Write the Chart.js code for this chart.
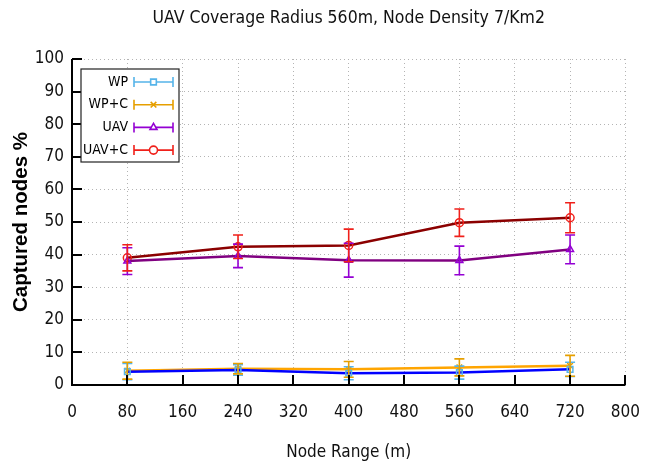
<!DOCTYPE html>
<html><head><meta charset="utf-8">
<script src="https://cdn.jsdelivr.net/npm/chart.js@4"></script>
<style>html,body{margin:0;padding:0;background:#fff}#wrap{width:657px;height:467px}</style>
</head><body><div id="wrap"><canvas id="c" width="657" height="467"></canvas></div>
<script>
const TITLE = 'UAV Coverage Radius 560m, Node Density 7/Km2';
const X_TITLE = 'Node Range (m)';
const Y_TITLE = 'Captured nodes %';
const nodeRange = [80, 240, 400, 560, 720];
const wp      = [4.1, 4.6, 3.6, 3.8, 4.8];
const wpErr   = [2.5, 1.6, 2.0, 2.0, 2.2];
const wpc     = [4.4, 5.0, 4.8, 5.4, 5.9];
const wpcErr  = [2.6, 1.6, 2.4, 2.6, 3.2];
const uav     = [38.0, 39.6, 38.3, 38.2, 41.6];
const uavErr  = [4.1, 3.6, 5.2, 4.4, 4.4];
const uavc    = [39.0, 42.4, 42.8, 49.8, 51.3];
const uavcErr = [4.0, 3.6, 5.0, 4.2, 4.6];
const xTicks = [0, 80, 160, 240, 320, 400, 480, 560, 640, 720, 800];
const yTicks = [0, 10, 20, 30, 40, 50, 60, 70, 80, 90, 100];

const FONT = '"DejaVu Sans Condensed", "DejaVu Sans", sans-serif';

function pts(ys){ return nodeRange.map((x,i)=>({x:x,y:ys[i]})); }

const series = [
  {label:'WP',    data:wp,   err:wpErr,   line:'#0000ff', bar:'#56b4e9', style:'rect'},
  {label:'WP+C',  data:wpc,  err:wpcErr,  line:'#ffa500', bar:'#e69f00', style:'crossRot'},
  {label:'UAV',   data:uav,  err:uavErr,  line:'#800080', bar:'#9400d3', style:'triangle'},
  {label:'UAV+C', data:uavc, err:uavcErr, line:'#8b0000', bar:'#f0201a', style:'circle'}
];

const datasets = series.map(s=>({
  label:s.label, data:pts(s.data), errors:s.err, barColor:s.bar,
  borderColor:s.line, borderWidth:2.5, tension:0,
  pointStyle:s.style, pointRadius:4, pointBorderColor:s.bar,
  pointBackgroundColor:'rgba(0,0,0,0)', pointBorderWidth:1.5, fill:false
}));

const errorBars = {
  id:'errorBars',
  afterDatasetsDraw(chart){
    const ctx = chart.ctx, xs = chart.scales.x, ys = chart.scales.y;
    chart.data.datasets.forEach(ds=>{
      ctx.save();
      ctx.strokeStyle = ds.barColor; ctx.lineWidth = 1.6;
      ds.data.forEach((p,i)=>{
        const px = xs.getPixelForValue(p.x);
        const t = ys.getPixelForValue(p.y + ds.errors[i]);
        const b = ys.getPixelForValue(p.y - ds.errors[i]);
        ctx.beginPath();
        ctx.moveTo(px,t); ctx.lineTo(px,b);
        ctx.moveTo(px-5,t); ctx.lineTo(px+5,t);
        ctx.moveTo(px-5,b); ctx.lineTo(px+5,b);
        ctx.stroke();
      });
      ctx.restore();
    });
  }
};

const frame = {
  id:'frame',
  afterDraw(chart){
    const ctx = chart.ctx, a = chart.chartArea, xs = chart.scales.x, ys = chart.scales.y;
    ctx.save();
    // title centred over the plot area
    ctx.fillStyle = '#111'; ctx.font = '17.5px ' + FONT;
    ctx.textAlign = 'center'; ctx.textBaseline = 'middle';
    ctx.fillText(TITLE, (a.left + a.right) / 2, 18);
    ctx.strokeStyle = '#000'; ctx.lineWidth = 2;
    ctx.beginPath();
    xTicks.forEach(v=>{ const px = Math.round(xs.getPixelForValue(v)); ctx.moveTo(px,a.bottom); ctx.lineTo(px,a.bottom-10); });
    yTicks.forEach(v=>{ const py = Math.round(ys.getPixelForValue(v)); ctx.moveTo(a.left,py); ctx.lineTo(a.left+10,py); });
    ctx.moveTo(a.left,a.top); ctx.lineTo(a.left,a.bottom); ctx.lineTo(a.right,a.bottom);
    ctx.stroke();
    // legend
    const lx = 81, ly = 69, lw = 98, lh = 93;
    ctx.fillStyle = '#fff'; ctx.fillRect(lx,ly,lw,lh);
    ctx.lineWidth = 1.2; ctx.strokeStyle = '#222'; ctx.strokeRect(lx,ly,lw,lh);
    ctx.font = '14px ' + FONT; ctx.textAlign = 'right'; ctx.textBaseline = 'middle';
    series.forEach((s,i)=>{
      const y = 82 + i*22.7;
      ctx.fillStyle = '#000'; ctx.fillText(s.label, 128, y);
      ctx.strokeStyle = s.bar; ctx.lineWidth = 1.6;
      ctx.beginPath();
      ctx.moveTo(134,y); ctx.lineTo(173,y);
      ctx.moveTo(134,y-5); ctx.lineTo(134,y+5);
      ctx.moveTo(173,y-5); ctx.lineTo(173,y+5);
      ctx.stroke();
      ctx.fillStyle = '#fff';
      Chart.helpers.drawPoint(ctx,{pointStyle:s.style, radius:4, rotation:0, borderWidth:1.5}, 153.5, y);
    });
    ctx.restore();
  }
};

new Chart(document.getElementById('c'), {
  type:'line',
  data:{datasets:datasets},
  plugins:[errorBars, frame],
  options:{
    responsive:false, animation:false, devicePixelRatio:1,
    layout:{padding:{left:0,right:31,top:59,bottom:0}},
    plugins:{
      legend:{display:false}, tooltip:{enabled:false}, title:{display:false}
    },
    scales:{
      x:{type:'linear', min:0, max:800,
        afterBuildTicks(sc){ sc.ticks = xTicks.map(v=>({value:v})); },
        afterFit(sc){ sc.height = 82; },
        grid:{color:'#b4b4b4', lineWidth:1, drawTicks:false},
        border:{display:false, dash:[1,3]},
        ticks:{color:'#111', font:{family:FONT, size:17}, padding:17, maxRotation:0},
        title:{display:true, text:X_TITLE, color:'#111', font:{family:FONT, size:17}, padding:{top:13}}
      },
      y:{type:'linear', min:0, max:100,
        afterBuildTicks(sc){ sc.ticks = yTicks.map(v=>({value:v})); },
        afterFit(sc){ sc.width = 72; },
        grid:{color:'#b4b4b4', lineWidth:1, drawTicks:false},
        border:{display:false, dash:[1,3]},
        ticks:{color:'#111', font:{family:FONT, size:17}, padding:8},
        title:{display:true, text:Y_TITLE, color:'#000', font:{family:'"Liberation Sans", Arial, sans-serif', size:20.5, weight:'bold'}, padding:{top:9,bottom:0}}
      }
    }
  }
});
</script></body></html>
